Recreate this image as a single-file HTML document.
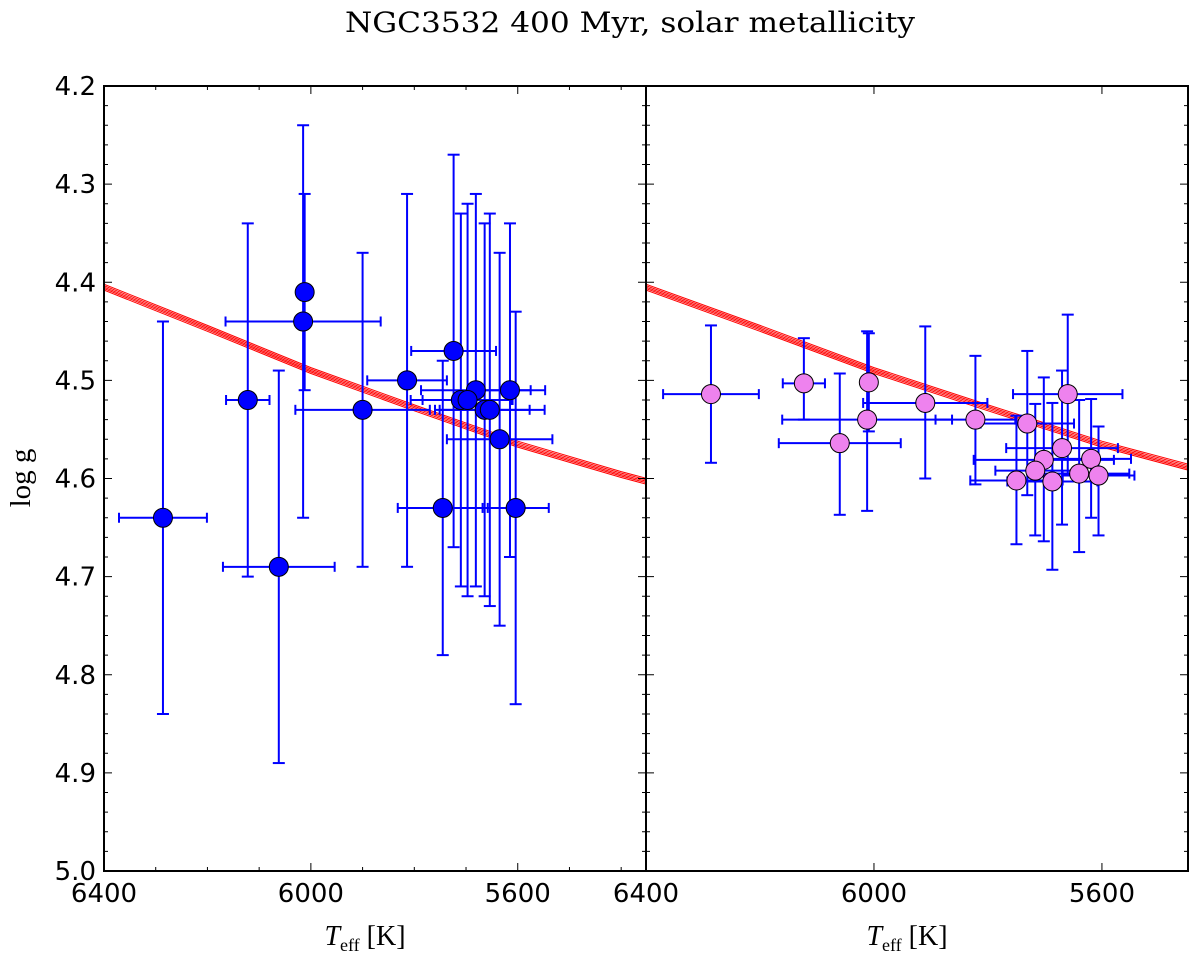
<!DOCTYPE html>
<html><head><meta charset="utf-8"><style>
body{margin:0;background:#fff;}
svg{display:block;}
</style></head><body>
<svg id="chart" width="1200" height="961" xmlns="http://www.w3.org/2000/svg">
<text x="630" y="32" font-family="DejaVu Serif, Liberation Serif, serif" font-size="28" text-anchor="middle" textLength="570" lengthAdjust="spacingAndGlyphs">NGC3532 400 Myr, solar metallicity</text>
<text transform="translate(30,478) rotate(-90)" font-family="Liberation Serif, serif" font-size="29" text-anchor="middle">log g</text>
<g id="plots"></g>
</svg>
<script>
// Data
const leftT = [6286, 6122, 6062, 6012, 6015, 5900, 5814, 5724, 5745, 5604, 5681, 5710, 5697, 5664, 5635, 5615, 5654];
const leftG = [4.64, 4.52, 4.69, 4.41, 4.44, 4.53, 4.50, 4.47, 4.63, 4.63, 4.51, 4.52, 4.52, 4.53, 4.56, 4.51, 4.53];
const leftTerr = [85, 42, 108, 10, 150, 130, 77, 82, 87, 64, 106, 97, 87, 87, 102, 68, 106];
const leftGerr = [0.2, 0.18, 0.2, 0.1, 0.2, 0.16, 0.19, 0.2, 0.15, 0.2, 0.2, 0.19, 0.2, 0.19, 0.19, 0.17, 0.2];
const rightT = [6286, 6123, 6060, 6009, 6012, 5910, 5822, 5731, 5660, 5670, 5702, 5619, 5717, 5750, 5687, 5640, 5606];
const rightG = [4.514, 4.503, 4.564, 4.502, 4.540, 4.523, 4.540, 4.544, 4.514, 4.569, 4.581, 4.580, 4.592, 4.602, 4.603, 4.595, 4.597];
const rightTerr = [84, 37, 107, 10, 149, 109, 70, 82, 96, 98, 123, 70, 70, 81, 79, 88, 63];
const rightGerrLo = [0.07, 0.046, 0.071, 0.05, 0.09, 0.078, 0.065, 0.074, 0.081, 0.079, 0.084, 0.061, 0.068, 0.066, 0.08, 0.075, 0.05];
const rightGerrHi = [0.07, 0.037, 0.073, 0.05, 0.093, 0.077, 0.066, 0.073, 0.081, 0.078, 0.083, 0.06, 0.066, 0.065, 0.09, 0.08, 0.061];
const isoT = [6400, 6200, 6000, 5800, 5600, 5400, 5300];
const isoG = [4.405, 4.447, 4.49, 4.528, 4.565, 4.596, 4.61];
const isoOffsets = [-0.003, -0.0015, 0, 0.0015, 0.003];
const xTicks = [6400, 6000, 5600];
const yTicks = [4.2, 4.3, 4.4, 4.5, 4.6, 4.7, 4.8, 4.9, 5.0];

const NS = 'http://www.w3.org/2000/svg';
const root = document.getElementById('plots');
function mk(tag, attrs, parent) {
  const e = document.createElementNS(NS, tag);
  for (const k in attrs) e.setAttribute(k, attrs[k]);
  (parent || root).appendChild(e);
  return e;
}
const Y0 = 86, Y1 = 871;
function ys(g) { return Y0 + (g - 4.2) / 0.8 * (Y1 - Y0); }

function panel(name, x0, x1, tMax, tMin, T, G, Terr, Glo, Ghi, color, showY, minorX) {
  const xs = t => x0 + (tMax - t) / (tMax - tMin) * (x1 - x0);
  const g = mk('g', {});
  
  
  const clipId = name + '-clip';
  const cp = mk('clipPath', {id: clipId}, g);
  mk('rect', {x: x0, y: Y0, width: x1 - x0, height: Y1 - Y0}, cp);
  const inner = mk('g', {'clip-path': 'url(#' + clipId + ')'}, g);
  isoOffsets.forEach((o, k) => {
    const d = isoT.map((t, i) => (i ? 'L' : 'M') + xs(t).toFixed(1) + ' ' + ys(isoG[i] + o).toFixed(1)).join(' ');
    const p = mk('path', {d: d, fill: 'none', stroke: '#ff0000', 'stroke-width': 1}, inner);
    
    
  });
  T.forEach((t, i) => {
    const cx = xs(t), cy = ys(G[i]);
    const xa = xs(t + Terr[i]), xb = xs(t - Terr[i]);
    const ya = ys(G[i] - Glo[i]), yb = ys(G[i] + Ghi[i]);
    const eb = mk('g', {stroke: '#0000ff', 'stroke-width': 2, fill: 'none'}, inner);
    
    
    mk('line', {x1: xa, y1: cy, x2: xb, y2: cy}, eb);
    mk('line', {x1: cx, y1: ya, x2: cx, y2: yb}, eb);
    mk('line', {x1: xa, y1: cy - 5, x2: xa, y2: cy + 5}, eb);
    mk('line', {x1: xb, y1: cy - 5, x2: xb, y2: cy + 5}, eb);
    mk('line', {x1: cx - 6, y1: ya, x2: cx + 6, y2: ya}, eb);
    mk('line', {x1: cx - 6, y1: yb, x2: cx + 6, y2: yb}, eb);
  });
  T.forEach((t, i) => {
    const c = mk('circle', {cx: xs(t), cy: ys(G[i]), r: 9.5, fill: color, stroke: '#000', 'stroke-width': 1}, inner);
    
    
  });
  const fr = mk('rect', {x: x0, y: Y0, width: x1 - x0, height: Y1 - Y0, fill: 'none', stroke: '#000', 'stroke-width': 2}, g);
  
  
  for (let t = tMax; t >= tMin; t -= 100) {
    const major = xTicks.includes(t);
    if (!major && !minorX) continue;
    const x = xs(t), L = major ? 8 : 4;
    mk('line', {x1: x, y1: Y1, x2: x, y2: Y1 - L, stroke: '#000', 'stroke-width': 1}, g);
    mk('line', {x1: x, y1: Y0, x2: x, y2: Y0 + L, stroke: '#000', 'stroke-width': 1}, g);
  }
  xTicks.forEach(t => {
    const tx = mk('text', {x: xs(t), y: Y1 + 31, 'font-family': 'DejaVu Sans, sans-serif', 'font-size': 26, 'text-anchor': 'middle'}, g);
    tx.textContent = t;
    
    
  });
  for (let k = 0; k <= 40; k++) {
    const gv = 4.2 + k * 0.02, y = ys(gv), L = (k % 5 === 0) ? 8 : 4;
    mk('line', {x1: x0, y1: y, x2: x0 + L, y2: y, stroke: '#000', 'stroke-width': 1}, g);
    mk('line', {x1: x1, y1: y, x2: x1 - L, y2: y, stroke: '#000', 'stroke-width': 1}, g);
  }
  if (showY) {
    yTicks.forEach(v => {
      const tx = mk('text', {x: x0 - 8, y: ys(v) + 9, 'font-family': 'DejaVu Sans, sans-serif', 'font-size': 26, 'text-anchor': 'end'}, g);
      tx.textContent = v.toFixed(1);
      
      
    });
  }
  const xl = mk('text', {x: (x0 + x1) / 2 - 10, y: 945, 'font-family': 'Liberation Serif, serif', 'font-size': 28, 'text-anchor': 'middle'}, g);
  xl.innerHTML = '<tspan font-style="italic">T</tspan><tspan font-size="18" dy="6">eff</tspan><tspan dy="-6"> [K]</tspan>';
  
  
}
panel('left-panel', 104, 646, 6400, 5352, leftT, leftG, leftTerr, leftGerr, leftGerr, '#0000ff', true, true);
panel('right-panel', 646, 1188, 6400, 5449, rightT, rightG, rightTerr, rightGerrLo, rightGerrHi, '#ee82ee', false, false);
</script>
</body></html>
